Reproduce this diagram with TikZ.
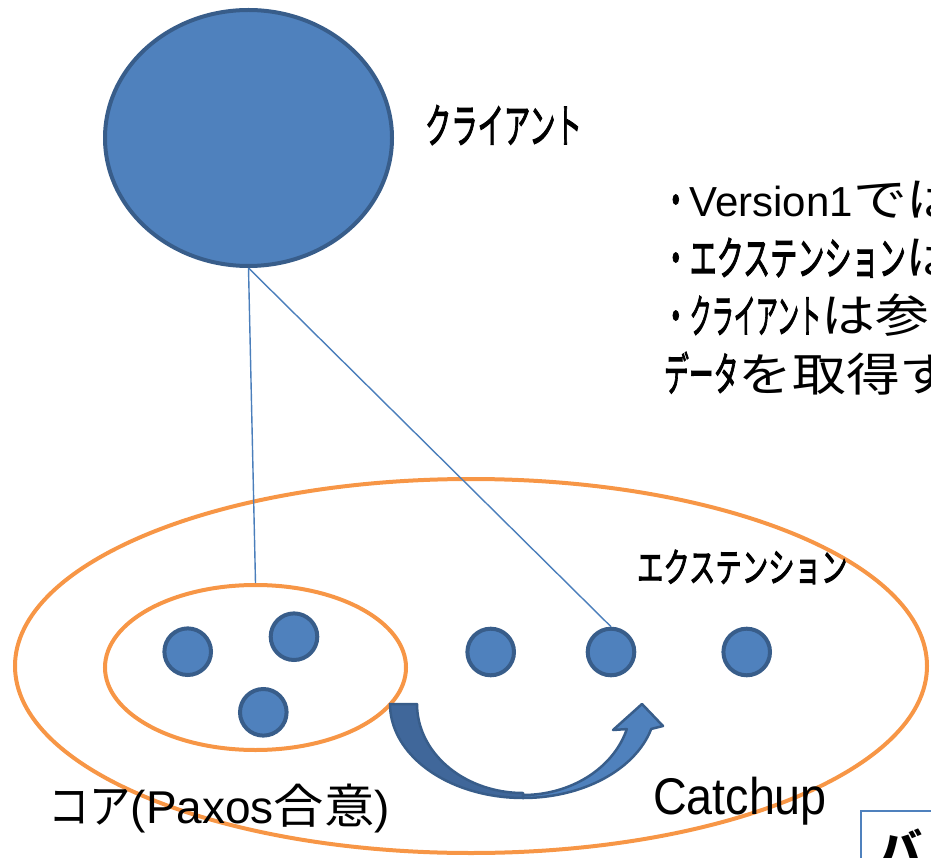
\documentclass[tikz,border=0pt]{standalone}
\usepackage{fontspec}
\usepackage{graphicx}
\setmainfont{Liberation Sans}
\newfontfamily\latf{Liberation Sans}
\newfontfamily\jpf{Noto Sans CJK JP}
\newfontfamily\jpk{Noto Sans CJK JP}[FakeBold=2.5]
\usetikzlibrary{shapes.geometric}
\definecolor{nodefill}{HTML}{4F81BD}
\definecolor{nodeline}{HTML}{385D8A}
\definecolor{ringc}{HTML}{F79646}
\definecolor{linkc}{HTML}{4A7EBB}
\definecolor{backband}{HTML}{40679A}
% horizontally squeezed run of text
\newcommand\sq[2]{\scalebox{#1}[1]{#2}}
% squeezed, heavier katakana run
\newcommand\kt[2]{\scalebox{#1}[1]{\jpk #2}}
\tikzset{
  bigdot/.style={circle, fill=nodefill, draw=nodeline, line width=4pt,
    minimum size=46.6pt, inner sep=0pt},
  ring/.style={ellipse, draw=ringc, line width=4pt, inner sep=0pt},
  link/.style={draw=linkc, line width=1.4pt},
  lbl/.style={inner sep=0pt, outer sep=0pt, text=black},
  bandline/.style={draw=nodeline, line width=2.5pt, line join=round},
}
\begin{document}
\begin{tikzpicture}[x=1pt, y=-1pt]
\useasboundingbox (0,0) rectangle (931,858);
\clip (0,0) rectangle (931,858);

% client
\node[ellipse, fill=nodefill, draw=nodeline, line width=4pt, inner sep=0pt,
      minimum width=287pt, minimum height=256pt] (client) at (248.5,138) {};
\node[lbl, anchor=base west, font=\fontsize{47}{58}\selectfont] (clientlbl)
  at (425,143) {\kt{0.56}{クライアント}};

% groups
\node[ring, minimum width=912pt, minimum height=374pt] (outer) at (471,666) {};
\node[ring, minimum width=301pt, minimum height=165pt] (core) at (255.5,667.5) {};

% extension members, linked from the client
\node[bigdot] (e1) at (490.7,652) {};
\node[bigdot] (e2) at (611,652) {};
\node[bigdot] (e3) at (746.7,652) {};
\draw[link] (client.south) -- (core.north);
\draw[link] (client.south) -- (e2.north);

% core members
\node[bigdot] (c1) at (187.7,651.7) {};
\node[bigdot] (c2) at (294,636.7) {};
\node[bigdot] (c3) at (263.3,712.3) {};

\node[lbl, anchor=base west, font=\fontsize{40}{50}\selectfont] (extlbl)
  at (637,582) {\kt{0.66}{エクステンション}};

% catchup arrow: back band, then front band with head
\path[fill=backband, bandline]
  plot[domain=180:90, samples=40] ({523+133*cos(\x)},{704+94*sin(\x)})
  -- plot[domain=90:180, samples=40] ({523+106*cos(\x)},{704+89*sin(\x)})
  -- cycle;
\path[fill=nodefill, bandline]
  plot[domain=90:15.4, samples=40] ({523+133*cos(\x)},{704+94*sin(\x)})
  -- (663,726) -- (642,704) -- (613,730)
  -- plot[domain=16:90, samples=40] ({523+108*cos(\x)},{704+91*sin(\x)})
  -- cycle;

\node[lbl, anchor=base west, font=\latf\fontsize{51.6}{60}\selectfont] (catchlbl)
  at (653,814) {\sq{0.905}{Catchup}};

\node[lbl, anchor=base west] (corelbl) at (48,823)
  {{\jpf\fontsize{47}{56}\selectfont\sq{0.88}{コア}}%
   {\latf\fontsize{46}{56}\selectfont (Paxos}%
   {\jpf\fontsize{47}{56}\selectfont\sq{1.07}{合意}}%
   {\latf\fontsize{46}{56}\selectfont )}};

% notes
\node[lbl, anchor=base west] (note1) at (662,217)
  {{\fontsize{46}{56}\selectfont\kt{0.6}{・}}%
   {\latf\fontsize{42}{56}\selectfont Version1}%
   {\jpf\fontsize{46}{56}\selectfont\sq{1.17}{では}}};
\node[lbl, anchor=base west] (note2) at (662,275)
  {{\fontsize{46}{56}\selectfont\kt{0.6}{・}\kt{0.59}{エクステンション}{\jpf\sq{1.17}{は}}}};
\node[lbl, anchor=base west] (note3) at (662,333)
  {{\fontsize{46}{56}\selectfont\kt{0.6}{・}\kt{0.48}{クライアント}{\jpf\sq{1.17}{は参}}}};
\node[lbl, anchor=base west] (note4) at (664,391)
  {{\fontsize{46}{56}\selectfont\kt{0.54}{データ}{\jpf\sq{1.17}{を取得す}}}};

% box at the lower right
\draw[draw=nodefill, line width=2pt] (861,811) rectangle (960,880);
\node[lbl, anchor=base west, font=\jpf\bfseries\fontsize{44}{52}\selectfont] (boxlbl)
  at (878,866) {バ};
\end{tikzpicture}
\end{document}
